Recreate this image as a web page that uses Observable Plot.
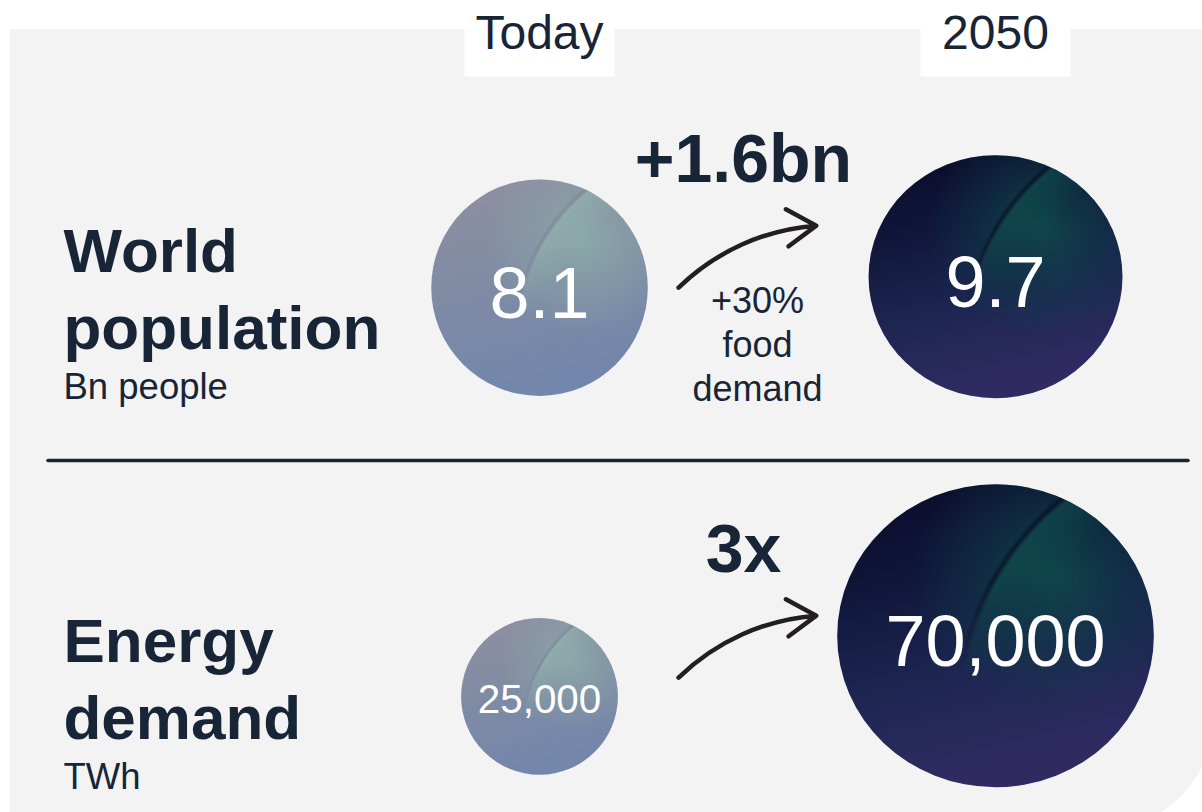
<!DOCTYPE html>
<html><head><meta charset="utf-8">
<script src="https://cdn.jsdelivr.net/npm/d3@7"></script>
<script src="https://cdn.jsdelivr.net/npm/@observablehq/plot@0.6"></script>
<style>
html,body{margin:0;padding:0;background:#fff;overflow:hidden;}
#wrap{position:relative;width:1202px;height:812px;overflow:hidden;}
#panel{position:absolute;left:10px;top:29px;width:1201px;height:796px;background:#f3f3f3;border-bottom-right-radius:100px;}
#chart{position:absolute;left:0;top:0;}
</style></head><body>
<div id="wrap"><div id="panel"></div><div id="chart"></div></div>
<script>
// ---- data ----
const periods = ["Today", "2050"];
const metrics = ["World population", "Energy demand"];
const titles = ["World\npopulation", "Energy\ndemand"];
const units = ["Bn people", "TWh"];
const valuesToday = [8.1, 25000];
const values2050 = [9.7, 70000];
const changeLabels = ["+1.6bn", "3x"];
const notes = ["+30%\nfood\ndemand", ""];

// ---- layout / style ----
const FONT = "'Liberation Sans', Arial, Helvetica, sans-serif";
const INK = "#172536";
const MAX_R = [121.5, 151.5];         // radius of the largest circle in each row
const ARROW = {x1: 0.305, x2: 0.607, y1: -0.238, y2: -0.397};

const records = [];
metrics.forEach((m, i) => {
  records.push({metric: m, row: i, period: periods[0], col: 0, value: valuesToday[i]});
  records.push({metric: m, row: i, period: periods[1], col: 1, value: values2050[i]});
});
const rowScales = metrics.map((m, i) =>
  d3.scalePow().exponent(0.64).domain([0, Math.max(valuesToday[i], values2050[i])]).range([0, MAX_R[i]]));
const fmt = v => v.toLocaleString("en-US");

const circleMarks = records.flatMap(d => {
  const r = rowScales[d.row](d.value);
  const cdy = -(6 + 0.83 * r) + (d.row === 0 ? 3 : -3);
  const label = fmt(d.value);
  const fs = Math.min(72, 1.7 * r / (0.55 * label.length));
  return [
    Plot.dot([d], {x: "col", y: "row", r, dy: cdy, fill: `url(#base${d.col})`}),
    Plot.dot([d], {x: "col", y: "row", r, dy: cdy, fill: `url(#blob${d.col})`}),
    Plot.dot([d], {x: "col", y: "row", r, dy: cdy, fill: `url(#ring${d.col})`}),
    Plot.text([d], {x: "col", y: "row", text: () => label, dy: cdy + 0.42 * fs, lineAnchor: "bottom",
      fontSize: fs, fill: "white", fontFamily: FONT})
  ];
});

const boxSymbol = {draw(ctx) { ctx.rect(-75, 0, 150, 76); }};

const svg = Plot.plot({
  width: 1202, height: 812, margin: 0,
  x: {domain: [0, 1], range: [539, 995], axis: null},
  y: {domain: [0, 1], range: [380, 770], axis: null},
  style: {background: "transparent", overflow: "visible"},
  marks: [
    // column headers
    Plot.dot(periods, {x: (d, i) => i, frameAnchor: "top", symbol: boxSymbol, fill: "white", r: 10}),
    Plot.text(periods, {x: (d, i) => i, frameAnchor: "top", text: d => d, dy: 48, lineAnchor: "bottom",
      fontSize: 48, fill: INK, fontFamily: FONT}),
    // row titles
    Plot.text(metrics, {y: (d, i) => i, frameAnchor: "left", text: (d, i) => titles[i], textAnchor: "start",
      dx: 63, dy: -31.5, lineAnchor: "bottom", lineHeight: 1.242, fontSize: 62, fontWeight: 700, fill: INK, fontFamily: FONT}),
    Plot.text(metrics, {y: (d, i) => i, frameAnchor: "left", text: (d, i) => units[i], textAnchor: "start",
      dx: 63, dy: 18.5, lineAnchor: "bottom", fontSize: 36.5, fill: INK, fontFamily: FONT}),
    // divider between rows
    Plot.ruleY(metrics.slice(1), {y: d => metrics.indexOf(d) - 0.5, dy: -115, insetLeft: 48, insetRight: 14,
      stroke: "#1b2530", strokeWidth: 3.5, strokeLinecap: "round"}),
    // circles
    ...circleMarks,
    // change arrows
    Plot.arrow(metrics, {x1: () => ARROW.x1, x2: () => ARROW.x2, y1: (d, i) => i + ARROW.y1, y2: (d, i) => i + ARROW.y2,
      bend: 20, stroke: "#231f20", strokeWidth: 4.5, headAngle: 65, headLength: 11.5, strokeLinecap: "round"}),
    Plot.text(metrics, {x: () => 0, y: (d, i) => i, text: (d, i) => changeLabels[i], dx: 204, dy: -199,
      lineAnchor: "bottom", fontSize: 68, fontWeight: 700, fill: INK, fontFamily: FONT}),
    Plot.text(metrics, {x: () => 0, y: (d, i) => i, text: (d, i) => notes[i], dx: 218, dy: 20,
      lineAnchor: "bottom", lineHeight: 1.22, fontSize: 36, fill: INK, fontFamily: FONT})
  ]
});

// gradients
const defs = d3.select(svg).insert("defs", ":first-child");
function lin(id, stops, x2 = 0.25) {
  const g = defs.append("linearGradient").attr("id", id).attr("x1", 0).attr("y1", 0).attr("x2", x2).attr("y2", 1);
  stops.forEach(([o, c, a = 1]) => g.append("stop").attr("offset", o).attr("stop-color", c).attr("stop-opacity", a));
}
function rad(id, cx, cy, r, stops) {
  const g = defs.append("radialGradient").attr("id", id).attr("cx", cx).attr("cy", cy).attr("r", r);
  stops.forEach(([o, c, a = 1]) => g.append("stop").attr("offset", o).attr("stop-color", c).attr("stop-opacity", a));
}
lin("base0", [[0, "#918fa0"], [0.45, "#818ca3"], [1, "#7386ab"]]);
lin("base1", [[0, "#0a0a28"], [0.35, "#10163a"], [0.65, "#1c2550"], [1, "#2f2b61"]]);
rad("blob0", 0.7, 0.28, 0.45, [[0, "#8db0aa", 0.8], [0.5, "#8aa7a8", 0.45], [1, "#8aa7a8", 0]]);
rad("blob1", 0.68, 0.3, 0.45, [[0, "#0e4f4d", 0.85], [0.55, "#0e3f48", 0.45], [1, "#0e3f48", 0]]);
rad("ring0", 1.3, 0.75, 0.93, [[0, "#93b5ae", 0], [0.8, "#93b5ae", 0], [0.95, "#93b5ae", 0.5], [0.968, "#98b8b0", 0.55],
  [0.985, "#74758b", 0.4], [1, "#74758b", 0]]);
rad("ring1", 1.3, 0.75, 0.93, [[0, "#0f4f4e", 0], [0.8, "#0f4f4e", 0], [0.95, "#0f4f4e", 0.55], [0.968, "#125250", 0.55],
  [0.985, "#06071e", 0.6], [1, "#06071e", 0]]);
const fadeG = defs.append("linearGradient").attr("id", "fadeG").attr("x1", 0).attr("y1", 0).attr("x2", 0).attr("y2", 1);
[[0, "white"], [0.3, "white"], [0.62, "black"]].forEach(([o, c]) => fadeG.append("stop").attr("offset", o).attr("stop-color", c));
defs.append("mask").attr("id", "fade").attr("maskContentUnits", "objectBoundingBox")
  .append("rect").attr("width", 1).attr("height", 1).attr("fill", "url(#fadeG)");

svg.querySelectorAll("circle").forEach(c => {
  const holder = c.closest("[fill]");
  const f = holder ? holder.getAttribute("fill") : "";
  if (/ring/.test(f)) c.setAttribute("mask", "url(#fade)");
  if (/(base|blob|ring)1/.test(f)) {
    const cx = +c.getAttribute("cx"), cy = +c.getAttribute("cy");
    c.setAttribute("transform", `translate(${cx},${cy}) scale(1.045,1) translate(${-cx},${-cy})`);
  }
});

document.getElementById("chart").appendChild(svg);
</script>
</body></html>
